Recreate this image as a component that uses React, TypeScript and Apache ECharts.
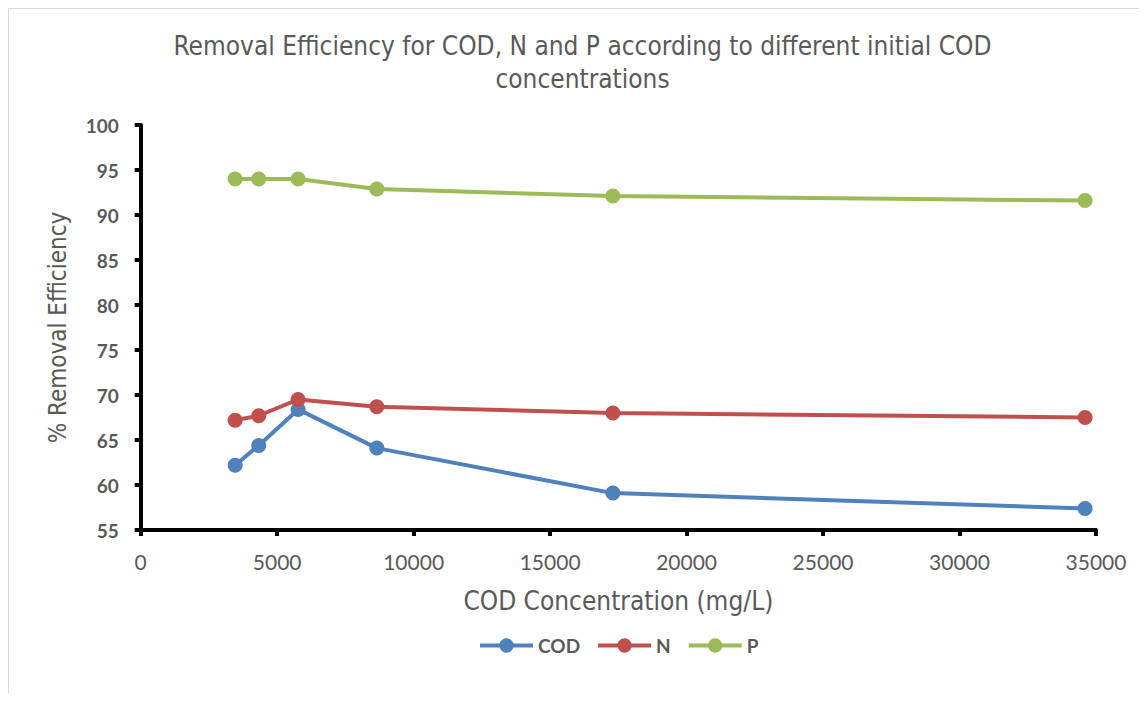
import React, { useEffect, useRef } from "react";
import * as echarts from "echarts";

const xValues = [3460, 4325, 5767, 8650, 17300, 34600];
const codValues = [62.2, 64.4, 68.4, 64.1, 59.1, 57.4];
const nValues = [67.2, 67.7, 69.5, 68.7, 68.0, 67.5];
const pValues = [94.0, 94.0, 94.0, 92.9, 92.1, 91.6];
const seriesNames = ["COD", "N", "P"];
const seriesColors = ["#4F81BD", "#C0504D", "#9BBB59"];
const titleLines = [
  "Removal Efficiency for COD, N and P according to different initial COD",
  "concentrations",
];
const xAxisName = "COD Concentration (mg/L)";
const yAxisName = "% Removal Efficiency";

const condensed = "'DejaVu Sans Condensed', 'Liberation Sans Narrow', 'Roboto', sans-serif";
const labelFont = "Lato, 'Open Sans', sans-serif";

export default function App() {
  const ref = useRef<HTMLDivElement>(null);
  useEffect(() => {
    document.body.style.overflow = "hidden";
    if (!ref.current) return;
    const chart = echarts.init(ref.current, null, { renderer: "svg" });
    const all = [codValues, nValues, pValues];
    chart.setOption({
      animation: false,
      backgroundColor: "#ffffff",
      graphic: titleLines.map((t, i) => ({
        type: "text",
        x: 573.5,
        y: 37 + i * 33,
        style: {
          text: t,
          textAlign: "center",
          textVerticalAlign: "middle",
          fontFamily: condensed,
          fontSize: 26,
          fill: "#595959",
        },
      })),
      grid: { left: 131.7, right: 43, top: 116, bottom: 163, containLabel: false },
      legend: {
        left: 464,
        top: 622,
        itemWidth: 53,
        itemHeight: 18,
        itemGap: 16,
        data: seriesNames,
        lineStyle: { width: 4 },
        textStyle: {
          fontFamily: labelFont,
          fontWeight: "bold",
          fontSize: 19,
          color: "#595959",
        },
      },
      xAxis: {
        type: "value",
        min: 0,
        max: 35000,
        interval: 5000,
        name: xAxisName,
        nameLocation: "middle",
        nameGap: 58,
        nameTextStyle: { fontFamily: condensed, fontSize: 26, color: "#595959" },
        axisLine: { lineStyle: { color: "#000", width: 4 } },
        axisTick: { show: true, length: 6, lineStyle: { color: "#000", width: 4 } },
        axisLabel: {
          margin: 21,
          fontFamily: labelFont,
          fontSize: 21,
          color: "#595959",
          formatter: (v: number) => String(v),
        },
        splitLine: { show: false },
      },
      yAxis: {
        type: "value",
        min: 55,
        max: 100,
        interval: 5,
        name: yAxisName,
        nameLocation: "middle",
        nameGap: 71,
        nameTextStyle: { fontFamily: condensed, fontSize: 24, color: "#595959" },
        axisLine: { show: true, lineStyle: { color: "#000", width: 4 } },
        axisTick: { show: true, length: 6, lineStyle: { color: "#000", width: 4 } },
        axisLabel: { margin: 22, fontFamily: labelFont, fontWeight: "bold", fontSize: 19, color: "#595959" },
        splitLine: { show: false },
      },
      series: seriesNames.map((name, i) => ({
        name,
        type: "line",
        data: xValues.map((x, j) => [x, all[i][j]]),
        symbol: "circle",
        symbolSize: 15,
        showSymbol: true,
        color: seriesColors[i],
        lineStyle: { width: 4, color: seriesColors[i] },
        itemStyle: { color: seriesColors[i] },
      })),
    });
    return () => chart.dispose();
  }, []);
  return (
    <div
      style={{
        width: 1131,
        height: 685,
        borderLeft: "1px solid #d9d9d9",
        borderTop: "1px solid #d9d9d9",
        boxSizing: "border-box",
      }}
    >
      <div ref={ref} style={{ width: 1130, height: 684 }} />
    </div>
  );
}
